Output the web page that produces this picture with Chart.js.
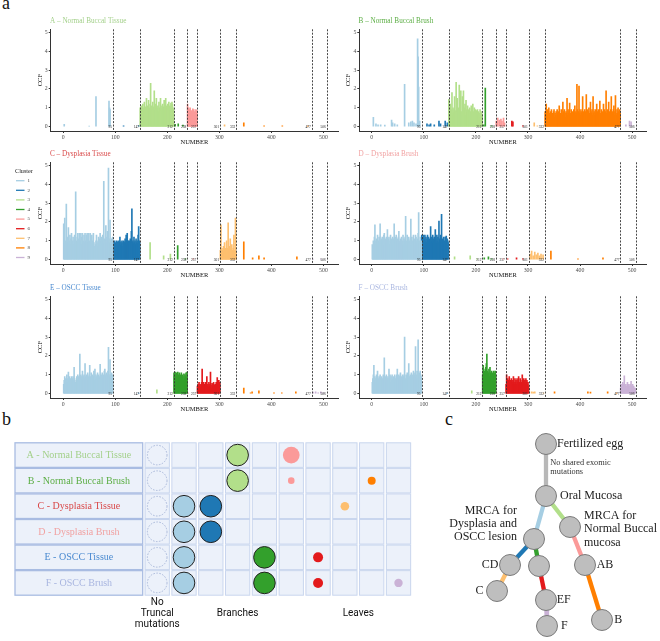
<!DOCTYPE html>
<html>
<head>
<meta charset="utf-8">
<script src="https://cdn.jsdelivr.net/npm/chart.js@4.4.0/dist/chart.umd.min.js"></script>
<style>
  body { margin: 0; background: #fff; }
  #page { position: relative; width: 660px; height: 641px; overflow: hidden; font-family: 'Liberation Serif', serif; }
  #page canvas { position: absolute; }
  .tag { position: absolute; font-size: 18px; line-height: 1; color: #111; }
</style>
</head>
<body>
<div id="page">
  <div class="tag" style="left:2px;top:-6px">a</div>
  <div class="tag" style="left:2px;top:410px">b</div>
  <div class="tag" style="left:445px;top:410px">c</div>
  <canvas id="pA" width="345" height="150" style="left:0;top:0"></canvas>
  <canvas id="pB" width="350" height="150" style="left:310px;top:0"></canvas>
  <canvas id="pC" width="345" height="150" style="left:0;top:133px"></canvas>
  <canvas id="pD" width="350" height="150" style="left:310px;top:133px"></canvas>
  <canvas id="pE" width="345" height="150" style="left:0;top:267px"></canvas>
  <canvas id="pF" width="350" height="150" style="left:310px;top:267px"></canvas>
  <canvas id="grid" width="430" height="216" style="left:0;top:425px"></canvas>
  <canvas id="tree" width="230" height="221" style="left:430px;top:420px"></canvas>
</div>
<script>
// ---- panel a: CCF per mutation ----
const sampleTitles = ['A \u2013 Normal Buccal Tissue', 'B \u2013 Normal Buccal Brush', 'C \u2013 Dysplasia Tissue',
  'D \u2013 Dysplasia Brush', 'E \u2013 OSCC Tissue', 'F \u2013 OSCC Brush'];
const sampleColors = ['#A3D08A', '#5CAE45', '#D94848', '#F1A2A2', '#4A8AD0', '#A9B6E0'];
const clusterIds = ['1', '2', '3', '4', '5', '6', '7', '8', '9'];
const clusterColors = ['#A6CEE3', '#1F78B4', '#B2DF8A', '#33A02C', '#FB9A99', '#E31A1C', '#FDBF6F', '#FF7F00', '#CAB2D6'];
const clusterFirst = [1, 96, 148, 213, 239, 258, 302, 333, 478];
const boundaries = [95.5, 147.5, 212.5, 238.5, 257.5, 301.5, 332.5, 477.5, 506.5];
const xTicks = [0, 100, 200, 300, 400, 500];
const yTicks = [0, 1, 2, 3, 4, 5];

// dense runs: [cluster, ccf of consecutive mutations from the cluster's first one]
const runsA = [
  [3, [1.0, 0.9, 1.1, 0.8, 1.0, 1.2, 0.95, 1.0, 1.3, 0.9, 1.05, 1.0, 1.5, 0.9, 1.1, 1.0, 1.4, 0.95, 1.0, 1.2,
       2.3, 1.1, 0.3, 1.0, 1.3, 0.9, 1.05, 1.9, 1.0, 0.9, 1.2, 1.5, 1.0, 0.95, 1.1, 0.8, 1.3, 1.0, 0.9, 1.5,
       1.1, 0.85, 1.0, 1.2, 0.9, 1.05, 1.4, 1.0, 0.9, 1.5, 1.1, 0.95, 1.0, 1.2, 0.9, 1.3, 1.0, 1.1, 0.9, 1.25,
       1.0, 1.3, 1.2, 1.0, 0.9]],
  [5, [1.2, 0.8, 1.0, 0.7, 0.9, 1.0, 0.6, 0.85, 0.75, 0.8, 0.95, 0.7, 0.9, 0.6, 0.8, 0.75, 0.9, 0.7, 0.85]]
];
// isolated mutations: [mutation, ccf]
const dotsA = [[2, 0.12], [50, 0.03], [63, 1.6], [88, 1.35], [89, 1.0], [90, 0.9], [116, 0.05], [145, 0.04],
  [215, 0.12], [221, 0.15], [230, 0.08], [310, 0.1], [347, 0.2], [386, 0.05], [421, 0.05], [470, 0.03]];

const runsB = [
  [3, [1.45, 0.8, 0.6, 1.2, 0.7, 0.9, 1.8, 0.6, 1.0, 0.75, 0.9, 1.6, 0.7, 0.85, 2.35, 0.8, 1.5, 0.6, 1.0, 0.9,
       2.2, 0.7, 1.3, 1.9, 0.8, 0.6, 1.6, 0.9, 1.9, 0.7, 1.0, 1.2, 0.6, 1.4, 0.8, 0.9, 1.1, 0.5, 0.9, 0.7,
       1.0, 0.8, 0.6, 1.1, 0.7, 0.9, 1.2, 0.6, 0.8, 1.0, 0.7, 0.9, 0.6, 0.85, 0.7, 0.9, 0.6, 0.8, 0.7, 0.5,
       0.9, 0.6, 0.8, 0.7, 0.6]],
  [8, [0.8, 0.6, 1.2, 0.7, 0.5, 0.9, 0.6, 1.0, 0.7, 0.5, 0.8, 0.6, 0.9, 0.5, 0.7, 0.6, 0.8, 0.9, 0.5, 0.7,
       0.6, 0.8, 0.5, 0.9, 0.7, 0.6, 0.8, 1.1, 0.6, 0.7, 0.5, 0.9, 0.7, 0.6, 1.3, 0.8, 0.6, 0.9, 0.7, 0.5,
       0.8, 0.7, 1.5, 0.6, 0.9, 0.7, 0.8, 1.25, 0.6, 0.7, 0.9, 0.5, 0.8, 0.7, 0.6, 0.9, 0.7, 1.1, 0.6, 0.8,
       0.7, 2.25, 0.9, 0.6, 0.8, 2.15, 0.7, 0.9, 0.6, 0.8, 0.7, 0.9, 1.6, 0.6, 0.8, 0.7, 0.9, 0.6, 0.8, 1.7,
       0.7, 0.9, 0.6, 0.8, 1.0, 0.7, 0.6, 1.3, 0.8, 0.7, 0.9, 0.6, 1.6, 0.7, 0.8, 0.6, 0.9, 0.7, 0.6, 1.2,
       0.8, 0.7, 0.9, 0.6, 0.8, 1.35, 0.7, 0.6, 0.9, 0.7, 0.8, 0.6, 1.2, 0.7, 0.9, 0.6, 0.8, 1.9, 0.7, 0.6,
       0.9, 0.7, 1.3, 0.6, 0.8, 0.7, 0.9, 1.6, 0.6, 0.8, 0.7, 0.9, 1.1, 0.6, 0.8, 1.65, 0.7, 0.6, 0.9, 0.7,
       1.0, 0.8, 0.6, 0.9, 0.7]]
];
const dotsB = [[3, 0.5], [8, 0.15], [12, 0.1], [17, 0.1], [25, 0.08], [38, 0.35], [40, 0.2], [44, 0.15], [49, 0.1],
  [63, 2.25], [71, 0.2], [75, 0.25], [78, 0.3], [81, 0.2], [85, 0.15], [88, 4.65], [89, 3.7], [90, 2.1], [92, 0.3],
  [106, 0.15], [110, 0.1], [113, 0.15], [120, 0.1], [129, 0.3], [132, 0.15], [141, 0.3], [145, 0.2],
  [215, 0.1], [218, 2.05], [230, 0.05], [239, 0.3], [242, 0.45], [245, 0.35], [248, 0.4], [250, 0.3], [253, 0.45],
  [255, 0.2], [269, 0.3], [271, 0.25], [290, 0.05], [312, 0.2], [318, 0.05], [488, 0.1], [495, 0.3], [498, 0.25]];

const runsC = [
  [1, [1.9, 0.9, 2.2, 1.0, 0.8, 2.95, 1.1, 0.9, 1.2, 1.7, 0.9, 1.0, 1.3, 0.8, 1.1, 1.4, 0.9, 1.0, 1.2, 0.8,
       1.0, 1.3, 0.9, 3.6, 1.0, 0.8, 1.2, 1.4, 0.9, 1.1, 1.4, 0.9, 1.0, 1.4, 0.8, 1.2, 1.4, 0.9, 1.0, 1.3,
       0.9, 1.4, 1.0, 0.8, 1.3, 1.4, 0.9, 1.1, 1.4, 0.8, 1.0, 1.4, 0.9, 1.2, 1.3, 0.8, 1.0, 1.4, 0.9, 0.7,
       0.05, 0.8, 1.0, 1.3, 0.9, 0.7, 1.0, 1.2, 0.8, 1.1, 1.4, 0.9, 1.0, 1.2, 0.8, 1.3, 1.0, 4.15, 0.9, 1.1,
       1.0, 1.8, 0.9, 1.2, 1.5, 1.0, 4.85, 1.1, 0.9, 2.1, 1.0, 0.8, 1.1, 0.9, 1.2]],
  [2, [0.7, 0.9, 0.8, 1.0, 0.75, 0.9, 0.85, 1.0, 0.7, 0.95, 0.8, 1.0, 0.9, 1.2, 0.75, 0.95, 0.85, 1.0, 0.7, 0.9,
       1.0, 0.8, 0.95, 1.1, 0.85, 1.3, 0.9, 1.4, 0.8, 1.0, 0.9, 1.0, 0.85, 1.1, 0.95, 1.5, 2.7, 0.9, 1.0, 0.85,
       1.2, 0.9, 1.0, 0.8, 1.1, 0.9, 1.0, 0.85, 1.3, 1.75, 1.0, 0.9]],
  [7, [0.5, 1.85, 0.4, 0.6, 0.3, 0.5, 0.7, 0.4, 0.9, 0.5, 0.6, 0.4, 1.0, 0.5, 0.6, 1.95, 0.4, 0.7, 0.5, 1.1,
       0.4, 0.6, 0.8, 0.5, 0.3, 0.6, 1.3, 0.4, 0.5, 2.2, 0.4]]
];
const dotsC = [[167, 0.9], [193, 0.2], [206, 0.3], [220, 0.75], [235, 0.05], [250, 0.05], [347, 0.95], [364, 0.1],
  [376, 0.2], [386, 0.1], [449, 0.15], [480, 0.03], [495, 0.03]];

const runsD = [
  [1, [0.8, 0.7, 1.0, 0.9, 1.2, 1.85, 0.8, 1.0, 1.1, 0.9, 1.3, 0.8, 1.0, 1.2, 0.9, 1.9, 1.0, 0.8, 1.1, 1.2,
       0.9, 1.0, 1.3, 1.4, 0.8, 1.1, 0.9, 1.2, 1.0, 1.6, 0.9, 1.1, 1.2, 0.8, 1.0, 1.3, 0.9, 1.1, 1.0, 1.2,
       0.8, 1.1, 1.9, 1.0, 0.9, 1.2, 1.3, 0.8, 1.0, 1.1, 1.2, 1.5, 0.9, 1.0, 1.1, 0.05, 1.2, 0.9, 1.0, 1.3,
       0.8, 1.1, 1.0, 1.2, 2.3, 0.9, 1.0, 1.3, 0.8, 1.1, 1.2, 0.9, 1.0, 1.1, 2.15, 0.8, 1.2, 1.0, 0.9, 1.3,
       1.0, 1.1, 0.8, 1.3, 1.2, 0.9, 1.0, 1.1, 1.4, 2.5, 1.0, 0.9, 1.2, 0.8, 1.0]],
  [2, [1.3, 1.2, 1.0, 1.3, 0.9, 1.1, 1.3, 1.0, 1.2, 0.9, 1.1, 1.3, 1.0, 1.2, 0.9, 1.1, 1.0, 1.75, 1.2, 0.9,
       1.0, 1.3, 1.1, 0.9, 1.2, 1.0, 1.6, 1.1, 0.9, 1.3, 1.0, 1.2, 0.9, 2.05, 1.1, 1.0, 1.3, 0.9, 2.4, 1.0,
       1.1, 0.9, 1.2, 1.0, 0.8, 1.2, 1.0, 1.25, 0.9, 1.1, 1.0, 0.9]]
];
const dotsD = [[159, 0.15], [189, 0.2], [202, 0.05], [216, 0.1], [224, 0.15], [230, 0.05], [252, 0.05], [261, 0.05],
  [278, 0.1], [290, 0.05], [304, 0.3], [307, 0.45], [310, 0.2], [313, 0.4], [316, 0.25], [319, 0.35], [322, 0.2],
  [325, 0.3], [329, 0.25], [344, 0.45], [396, 0.05], [444, 0.1]];

const runsE = [
  [1, [0.5, 0.7, 0.9, 0.6, 0.8, 0.7, 1.0, 0.6, 0.8, 1.15, 0.7, 0.9, 0.6, 0.8, 0.7, 0.9, 0.6, 0.8, 0.9, 0.7,
       1.4, 0.8, 0.6, 0.02, 0.7, 0.9, 0.8, 1.0, 0.7, 0.9, 0.8, 2.1, 0.7, 1.0, 0.9, 0.8, 1.2, 0.7, 0.9, 1.0,
       0.8, 1.6, 0.9, 0.7, 1.0, 0.8, 1.1, 0.9, 0.7, 1.0, 1.5, 0.8, 0.9, 1.1, 0.7, 1.0, 0.8, 0.9, 1.2, 0.7,
       1.3, 0.8, 1.0, 0.9, 0.7, 1.1, 0.8, 1.0, 0.9, 0.8, 1.55, 0.9, 1.0, 0.8, 1.1, 0.9, 1.0, 0.8, 1.2, 1.3,
       0.9, 1.0, 1.1, 0.8, 1.0, 1.2, 2.45, 1.0, 0.9, 1.8, 1.0, 0.9, 1.1, 0.8, 1.0]],
  [4, [1.1, 0.9, 1.15, 0.8, 1.0, 1.1, 0.9, 1.15, 0.85, 1.0, 1.1, 0.8, 1.0, 0.9, 1.1, 0.85, 1.0, 0.9, 0.7, 1.05,
       0.8, 1.0, 0.9, 1.1, 0.85, 1.15]],
  [6, [0.4, 0.5, 0.3, 0.6, 0.4, 0.5, 0.3, 0.45, 0.6, 1.3, 0.5, 0.4, 0.6, 0.35, 0.5, 0.4, 0.6, 0.5, 0.9, 0.4,
       0.5, 0.35, 0.6, 0.4, 0.5, 1.15, 0.45, 0.3, 0.55, 0.4, 0.5, 0.6, 0.35, 0.45, 0.5, 0.4, 0.6, 0.3, 0.85, 0.5,
       0.4, 0.7, 0.5, 0.6]]
];
const dotsE = [[145, 0.03], [180, 0.2], [212, 0.03], [240, 0.03], [347, 0.3], [360, 0.05], [363, 0.1], [376, 0.15],
  [405, 0.05], [420, 0.05], [447, 0.1], [480, 0.08], [485, 0.1], [490, 0.05], [495, 0.1], [500, 0.05]];

const runsF = [
  [1, [0.6, 0.8, 1.0, 1.5, 0.7, 0.9, 0.6, 0.8, 1.0, 0.7, 1.2, 0.8, 0.6, 0.9, 0.7, 1.0, 0.8, 0.6, 0.9, 0.7,
       0.8, 1.0, 0.7, 1.9, 0.8, 0.6, 0.9, 1.0, 0.7, 0.8, 0.9, 0.7, 1.3, 0.8, 1.0, 0.6, 0.9, 0.7, 1.0, 0.03,
       0.8, 0.9, 0.7, 1.0, 0.8, 0.6, 0.9, 1.0, 1.3, 0.7, 0.8, 1.0, 0.9, 0.7, 1.1, 0.8, 0.9, 0.7, 1.0, 0.8,
       0.9, 1.0, 3.0, 0.8, 0.7, 1.0, 0.9, 1.1, 0.8, 1.0, 1.6, 0.8, 0.9, 1.0, 0.7, 1.1, 0.9, 1.0, 0.8, 1.2,
       0.9, 1.0, 1.1, 2.5, 0.9, 1.0, 1.2, 0.8, 2.85, 1.0, 1.1, 0.9, 1.2, 1.0, 0.9]],
  [4, [1.0, 1.5, 1.3, 1.1, 1.2, 1.0, 1.4, 1.6, 2.1, 1.2, 1.0, 1.1, 1.3, 0.9, 1.4, 1.1, 1.0, 1.2, 0.9, 1.1,
       1.0, 1.2, 0.9, 1.1, 1.2, 1.0]],
  [6, [0.5, 1.0, 0.6, 0.8, 0.5, 0.7, 0.9, 0.6, 0.5, 0.7, 0.8, 0.6, 0.5, 0.7, 0.9, 0.6, 0.5, 0.8, 0.6, 0.7,
       0.5, 0.8, 0.6, 0.7, 0.9, 0.5, 0.6, 0.8, 0.7, 0.5, 0.6, 1.0, 0.7, 0.5, 0.8, 0.6, 0.7, 0.5, 0.8, 0.6,
       0.7, 0.5, 0.6, 0.4]],
  [9, [0.3, 0.5, 0.2, 0.4, 0.6, 0.3, 0.5, 0.95, 0.4, 0.3, 0.5, 0.2, 0.4, 0.6, 0.3, 0.5, 0.4, 0.3, 0.5, 0.2,
       0.65, 0.4, 0.3, 0.5, 0.2, 0.4, 0.3, 0.2, 0.3]]
];
const dotsF = [[145, 0.03], [192, 0.15], [240, 0.03], [307, 0.1], [310, 0.08], [313, 0.1], [330, 0.03], [351, 0.1],
  [415, 0.1], [420, 0.08], [453, 0.1], [470, 0.03]];

// ---- panel b: clusters present per sample ----
const gridRows = ['A - Normal Buccal Tissue', 'B - Normal Buccal Brush', 'C - Dysplasia Tissue',
  'D - Dysplasia Brush', 'E - OSCC Tissue', 'F - OSCC Brush'];
const gridColumns = ['none', '1', '2', '3', '4', '5', '6', '7', '8', '9'];
// bubble radius per row, one entry per column
const bubbleSizes = [
  [9.8, 0, 0, 10.8, 0, 8.4, 0, 0, 0, 0],
  [9.8, 0, 0, 10.8, 0, 3.3, 0, 0, 4.0, 0],
  [9.8, 10.8, 10.8, 0, 0, 0, 0, 4.3, 0, 0],
  [9.8, 10.8, 10.8, 0, 0, 0, 0, 0, 0, 0],
  [9.8, 10.8, 0, 0, 10.8, 0, 5.0, 0, 0, 0],
  [9.8, 10.8, 0, 0, 10.8, 0, 5.0, 0, 0, 4.2]
];
const groupTicks = [1, 4, 8.5];
const groupLabels = [['No', 'Truncal', 'mutations'], ['', 'Branches'], ['', 'Leaves']];

// ---- panel c: phylogenetic tree ----
const treeNodes = ['Fertilized egg', 'Oral Mucosa', 'MRCA D', 'MRCA N', 'CD', 'E/F', 'AB', 'C', 'EF', 'F', 'B'];
const treeX = [11.6, 11.6, 10.4, 14.0, 8.0, 10.9, 15.5, 6.7, 11.6, 11.7, 17.2];
const treeY = [2.4, 7.6, 11.9, 10.7, 14.5, 14.6, 14.5, 17.1, 18.0, 20.6, 20.0];
// [from, to, cluster] (cluster 0 = no shared mutations)
const treeEdges = [[0, 1, 0], [1, 2, 1], [1, 3, 3], [2, 4, 2], [2, 5, 4], [3, 6, 5], [4, 7, 7], [5, 8, 6], [8, 9, 9], [6, 10, 8]];

const SERIF = "'Liberation Serif', 'Times New Roman', serif";
Chart.defaults.font.family = SERIF;

function clusterOf(m) {
  let k = 0;
  clusterFirst.forEach((f, i) => { if (m >= f) k = i; });
  return k;
}

const panelTitle = {
  id: 'panelTitle',
  afterDraw(chart, args, opts) {
    const {ctx, chartArea} = chart;
    ctx.save();
    ctx.font = `7.2px ${SERIF}`;
    ctx.fillStyle = opts.color;
    ctx.textAlign = 'left';
    ctx.textBaseline = 'middle';
    ctx.fillText(opts.text, chartArea.left - 0.7, chartArea.top - 8.3);
    ctx.restore();
  }
};

const boundaryLines = {
  id: 'boundaryLines',
  afterDatasetsDraw(chart) {
    const {ctx, chartArea, scales} = chart;
    const y0 = scales.y.getPixelForValue(0);
    ctx.save();
    ctx.strokeStyle = '#333';
    ctx.lineWidth = 0.9;
    ctx.setLineDash([2, 1.4]);
    boundaries.forEach(b => {
      const x = Math.round(scales.x.getPixelForValue(b)) + 0.5;
      ctx.beginPath();
      ctx.moveTo(x, chartArea.top);
      ctx.lineTo(x, chartArea.bottom);
      ctx.stroke();
    });
    ctx.setLineDash([]);
    ctx.fillStyle = '#222';
    ctx.font = `3.5px ${SERIF}`;
    ctx.textAlign = 'right';
    ctx.textBaseline = 'middle';
    boundaries.forEach(b => {
      ctx.fillText(String(Math.floor(b)), scales.x.getPixelForValue(b) - 1, y0 + 0.5);
    });
    ctx.restore();
  }
};

const clusterLegend = {
  id: 'clusterLegend',
  afterDraw(chart) {
    const ctx = chart.ctx;
    ctx.save();
    ctx.font = `6.2px ${SERIF}`;
    ctx.fillStyle = '#222';
    ctx.textBaseline = 'middle';
    ctx.fillText('Cluster', 15, 38);
    ctx.font = `5px ${SERIF}`;
    clusterIds.forEach((id, i) => {
      const y = 47.7 + i * 9.6;
      ctx.strokeStyle = clusterColors[i];
      ctx.lineWidth = 1.3;
      ctx.beginPath();
      ctx.moveTo(16, y);
      ctx.lineTo(24.5, y);
      ctx.stroke();
      ctx.fillStyle = '#444';
      ctx.fillText(id, 27.5, y);
    });
    ctx.restore();
  }
};

function buildPanel(canvasId, index, runs, dots, left, legend) {
  const datasets = clusterColors.map((color, k) => ({
    label: clusterIds[k],
    data: [],
    backgroundColor: color,
    borderWidth: 0,
    barThickness: 1,
    grouped: false
  }));
  runs.forEach(([cluster, values]) => {
    const first = clusterFirst[cluster - 1];
    values.forEach((v, i) => datasets[cluster - 1].data.push({x: first + i, y: v}));
  });
  dots.forEach(([m, v]) => datasets[clusterOf(m)].data.push({x: m, y: v}));
  datasets.forEach(d => d.data.sort((a, b) => a.x - b.x));

  const tickFont = {family: SERIF, size: 5.8};
  const plugins = [panelTitle, boundaryLines];
  if (legend) plugins.push(clusterLegend);

  return new Chart(document.getElementById(canvasId), {
    type: 'bar',
    data: {datasets},
    plugins,
    options: {
      responsive: false,
      animation: false,
      events: [],
      layout: {autoPadding: false, padding: {left: left ? 36.1 : 34.7, right: left ? 7 : 13.3, top: 29.3, bottom: 0}},
      plugins: {
        legend: {display: false},
        tooltip: {enabled: false},
        panelTitle: {text: sampleTitles[index], color: sampleColors[index]}
      },
      scales: {
        x: {
          type: 'linear', min: -24, max: 528, offset: false,
          grid: {display: true, drawOnChartArea: false, tickLength: 2, color: '#333', offset: false},
          border: {display: true, color: '#333', width: 1},
          ticks: {font: tickFont, color: '#4D4D4D', padding: 1, maxRotation: 0},
          title: {display: true, text: 'NUMBER', color: '#111', font: {family: SERIF, size: 6.5}, padding: {top: 0, bottom: 3.4}},
          afterBuildTicks: s => { s.ticks = xTicks.map(v => ({value: v})); },
          afterFit: s => { s.height = 19; }
        },
        y: {
          min: -0.23, max: 5.16,
          grid: {display: true, drawOnChartArea: false, tickLength: 2, color: '#333'},
          border: {display: true, color: '#333', width: 1},
          ticks: {font: tickFont, color: '#4D4D4D', padding: 1},
          title: {display: true, text: 'CCF', color: '#111', font: {family: SERIF, size: 6.5}, padding: 0},
          afterBuildTicks: s => { s.ticks = yTicks.map(v => ({value: v})); },
          afterFit: s => { s.width = 14.6; }
        }
      }
    }
  });
}

buildPanel('pA', 0, runsA, dotsA, true, false);
buildPanel('pB', 1, runsB, dotsB, false, false);
buildPanel('pC', 2, runsC, dotsC, true, true);
buildPanel('pD', 3, runsD, dotsD, false, false);
buildPanel('pE', 4, runsE, dotsE, true, false);
buildPanel('pF', 5, runsF, dotsF, false, false);

// ---- panel b ----
const cellGrid = {
  id: 'cellGrid',
  beforeDatasetsDraw(chart) {
    const {ctx, scales} = chart;
    const colW = scales.x.getPixelForValue(1.5) - scales.x.getPixelForValue(0.5);
    const rowH = scales.y.getPixelForValue(1.5) - scales.y.getPixelForValue(0.5);
    ctx.save();
    gridRows.forEach((name, r) => {
      const cy = scales.y.getPixelForValue(r + 1);
      gridColumns.forEach((c, k) => {
        const cx = scales.x.getPixelForValue(k + 1);
        const w = colW - 2.5, h = rowH - 1;
        ctx.fillStyle = '#ECF1FA';
        ctx.fillRect(cx - w / 2, cy - h / 2, w, h);
        ctx.strokeStyle = '#C9D6EE';
        ctx.lineWidth = 1;
        ctx.strokeRect(cx - w / 2, cy - h / 2, w, h);
      });
      ctx.fillStyle = '#ECF1FA';
      ctx.fillRect(15, cy - rowH / 2 + 0.5, 127.7, rowH - 1);
      ctx.strokeStyle = '#A9BCE2';
      ctx.lineWidth = 1.3;
      ctx.strokeRect(15, cy - rowH / 2 + 0.5, 127.7, rowH - 1);
      ctx.fillStyle = sampleColors[r];
      ctx.font = `10px ${SERIF}`;
      ctx.textAlign = 'center';
      ctx.textBaseline = 'middle';
      ctx.fillText(name, 78.9, cy + 0.5);
    });
    ctx.restore();
  },
  beforeDatasetDraw(chart, args) {
    if (args.index === 0) chart.ctx.setLineDash([1.6, 1.4]);
  },
  afterDatasetDraw(chart, args) {
    if (args.index === 0) chart.ctx.setLineDash([]);
  }
};

const gridDatasets = gridColumns.map((col, k) => ({
  label: col,
  data: bubbleSizes.map((row, r) => ({x: k + 1, y: r + 1, r: row[k]})).filter(p => p.r > 0),
  backgroundColor: k === 0 ? 'rgba(0,0,0,0)' : clusterColors[k - 1],
  borderColor: k === 0 ? '#A3B2D6' : '#222',
  borderWidth: k === 0 ? 0.9 : (k <= 4 ? 1 : 0),
  clip: false
}));

new Chart(document.getElementById('grid'), {
  type: 'bubble',
  data: {datasets: gridDatasets},
  plugins: [cellGrid],
  options: {
    responsive: false,
    animation: false,
    events: [],
    layout: {autoPadding: false, padding: {left: 143.8, right: 18.1, top: 17.3, bottom: 0}},
    plugins: {legend: {display: false}, tooltip: {enabled: false}},
    scales: {
      x: {
        type: 'linear', min: 0.5, max: 10.5,
        grid: {display: false, drawTicks: false},
        border: {display: false},
        ticks: {
          font: {family: "Roboto, 'Liberation Sans', sans-serif", size: 10, lineHeight: 1.08},
          color: '#111', padding: 1.6, maxRotation: 0, autoSkip: false,
          callback: (v, i) => groupLabels[i]
        },
        afterBuildTicks: s => { s.ticks = groupTicks.map(v => ({value: v})); },
        afterFit: s => { s.height = 45.3; }
      },
      y: {type: 'linear', min: 0.5, max: 6.5, reverse: true, display: false}
    }
  }
});

// ---- panel c ----
const treeLabels = {
  id: 'treeLabels',
  afterDatasetsDraw(chart) {
    const {ctx, scales} = chart;
    const px = i => scales.x.getPixelForValue(treeX[i]);
    const py = i => scales.y.getPixelForValue(treeY[i]);
    // [node, lines, align, dx, first line dy, line gap]
    const items = [
      [0, ['Fertilized egg'], 'left', 11, 0, 0],
      [1, ['Oral Mucosa'], 'left', 14, 0, 0],
      [2, ['MRCA for', 'Dysplasia and', 'OSCC lesion'], 'right', -17, -28.6, 13.3],
      [3, ['MRCA for', 'Normal Buccal', 'mucosa'], 'left', 14, -11.3, 13.6],
      [4, ['CD'], 'right', -11.7, 0, 0],
      [6, ['AB'], 'left', 11.7, 0, 0],
      [7, ['C'], 'right', -13.4, 0, 0],
      [8, ['EF'], 'left', 10.7, 0, 0],
      [9, ['F'], 'left', 14, 0, 0],
      [10, ['B'], 'left', 12.3, 0, 0]
    ];
    ctx.save();
    ctx.fillStyle = '#222';
    ctx.textBaseline = 'middle';
    ctx.font = `12px ${SERIF}`;
    items.forEach(([n, lines, align, dx, dy, gap]) => {
      ctx.textAlign = align;
      lines.forEach((t, j) => ctx.fillText(t, px(n) + dx, py(n) + dy + j * gap));
    });
    ctx.font = `8.3px ${SERIF}`;
    ctx.fillStyle = '#333';
    ctx.textAlign = 'left';
    ctx.fillText('No shared exomic', px(0) + 4.3, py(0) + 18.7);
    ctx.fillText('mutations', px(0) + 4.3, py(0) + 28);
    ctx.restore();
  }
};

const treeDatasets = [{
  label: 'nodes',
  data: treeNodes.map((n, i) => ({x: treeX[i], y: treeY[i]})),
  pointRadius: 10.5,
  backgroundColor: '#BEBEBE',
  borderColor: '#7A7A7A',
  borderWidth: 1,
  order: 0,
  clip: false
}].concat(treeEdges.map(([a, b, c]) => ({
  label: treeNodes[a] + '-' + treeNodes[b],
  data: [{x: treeX[a], y: treeY[a]}, {x: treeX[b], y: treeY[b]}],
  showLine: true,
  borderColor: c === 0 ? '#B8B8B8' : clusterColors[c - 1],
  borderWidth: 4.3,
  pointRadius: 0,
  order: 1,
  clip: false
})));

new Chart(document.getElementById('tree'), {
  type: 'scatter',
  data: {datasets: treeDatasets},
  plugins: [treeLabels],
  options: {
    responsive: false,
    animation: false,
    events: [],
    layout: {autoPadding: false, padding: 0},
    plugins: {legend: {display: false}, tooltip: {enabled: false}},
    scales: {
      x: {type: 'linear', min: 0, max: 23, display: false},
      y: {type: 'linear', min: 0, max: 22.1, reverse: true, display: false}
    }
  }
});
</script>
</body>
</html>
